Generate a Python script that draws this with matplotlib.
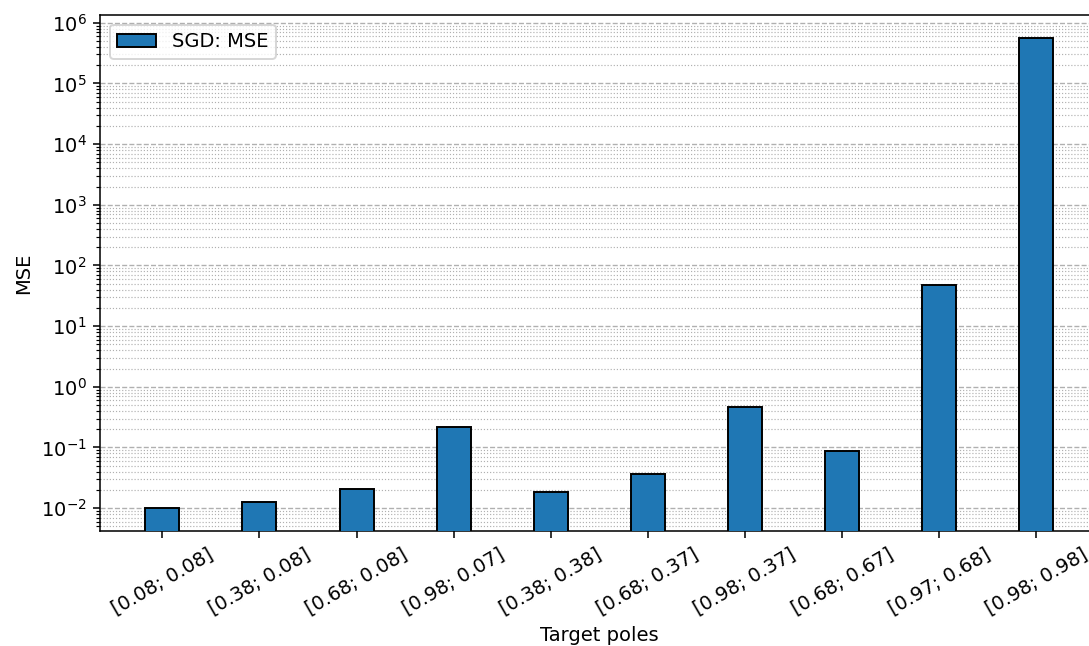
import matplotlib
matplotlib.use("Agg")
import matplotlib.pyplot as plt
import numpy as np

poles = [
    "[0.08; 0.08]", "[0.38; 0.08]", "[0.68; 0.08]", "[0.98; 0.07]", "[0.38; 0.38]",
    "[0.68; 0.37]", "[0.98; 0.37]", "[0.68; 0.67]", "[0.97; 0.68]", "[0.98; 0.98]",
]
sgd_mse = [0.0100, 0.0126, 0.0205, 0.215, 0.0185, 0.036, 0.46, 0.088, 48.5, 5.56e5]

fig = plt.figure(figsize=(1089 / 140, 646 / 140), dpi=140)
ax = fig.add_axes([0.0918, 0.178, 0.917, 0.799])

x = np.arange(len(poles))
width = 0.35
ax.bar(x, sgd_mse, width, color="#1f77b4", edgecolor="black", linewidth=1.0,
       label="SGD: MSE", zorder=3)

ax.set_yscale("log")
ax.set_ylim(0.0042, 1.35e6)
ax.set_xlim(-0.6425, 9.6425)
ax.set_xticks(x)
ax.set_xticklabels(poles, rotation=30)

ax.yaxis.grid(True, which="major", linestyle="--", color="#b0b0b0", linewidth=0.7)
ax.yaxis.grid(True, which="minor", linestyle=":", color="#b0b0b0", linewidth=0.6)
ax.set_axisbelow(True)

ax.set_xlabel("Target poles")
ax.set_ylabel("MSE")
ax.legend(loc="upper left")

fig.savefig("out.png", dpi=140)
